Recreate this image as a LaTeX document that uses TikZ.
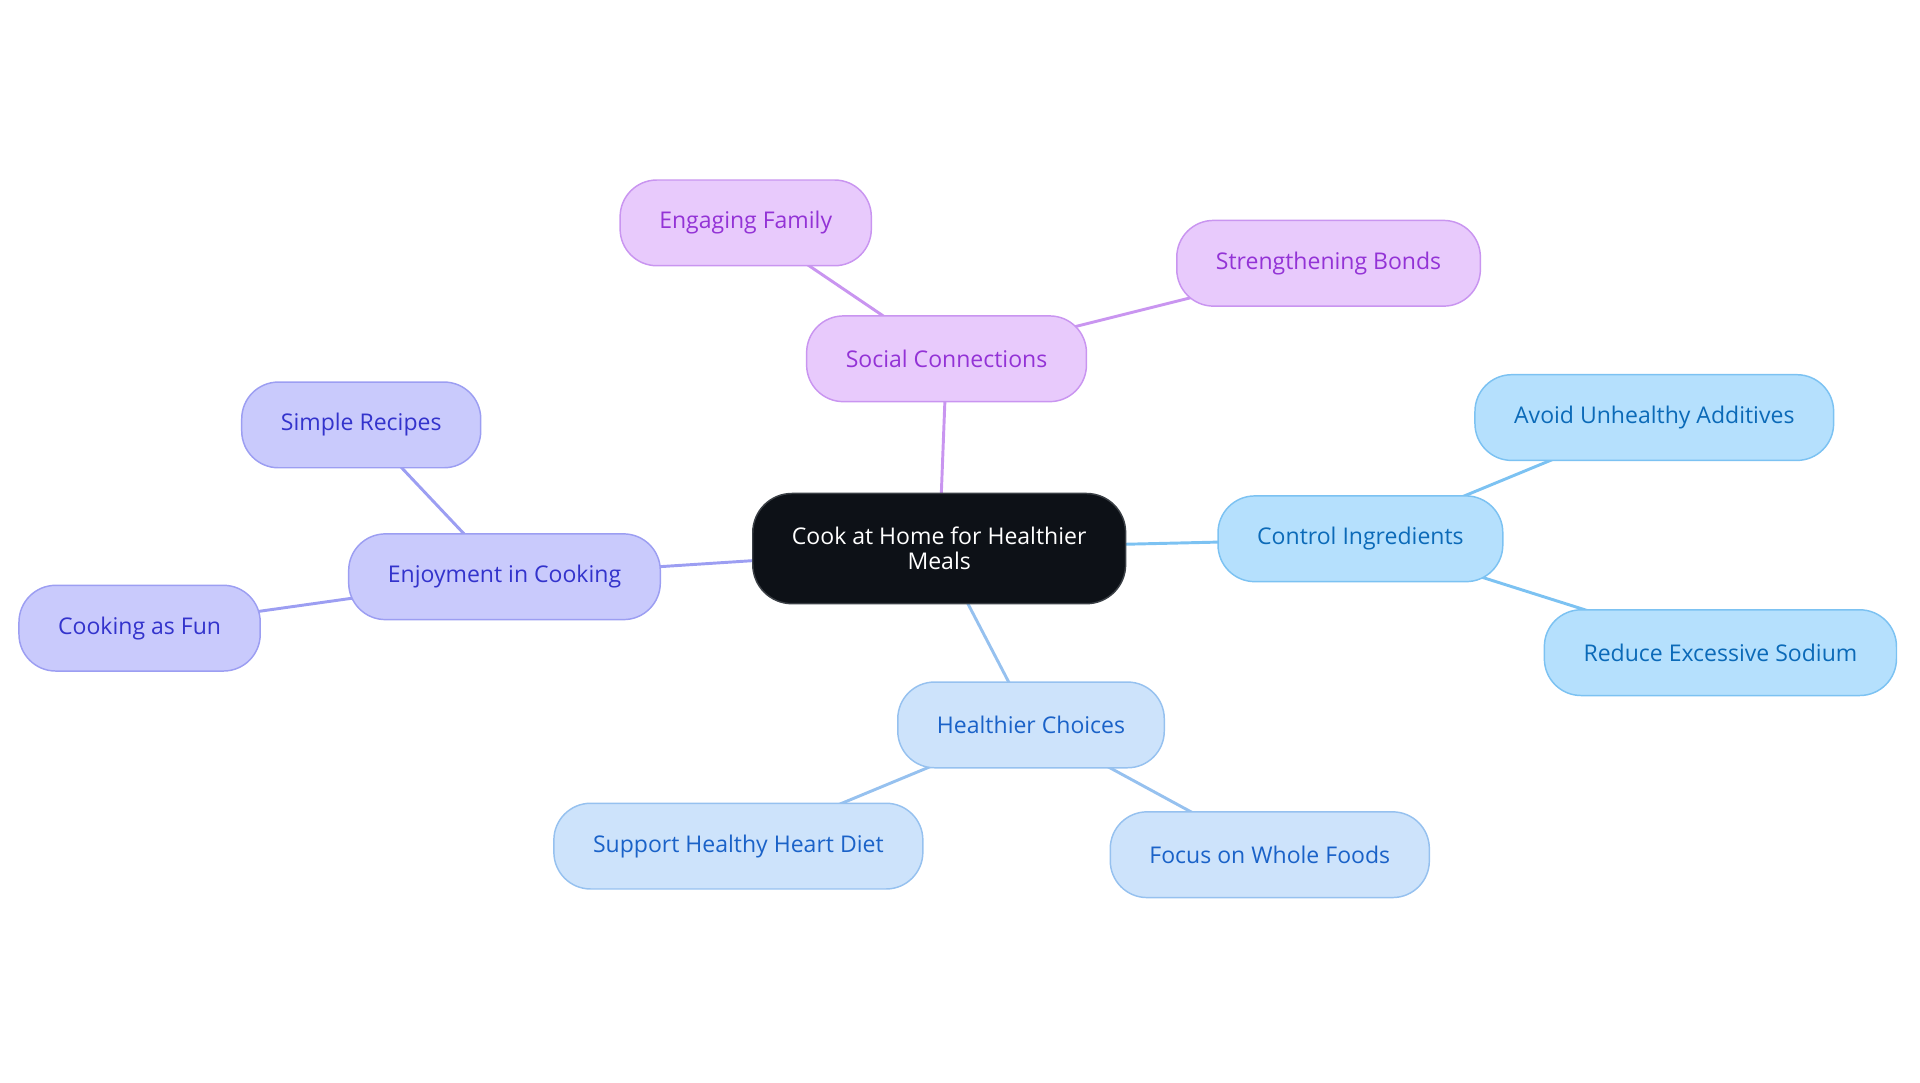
\documentclass[tikz,border=0pt]{standalone}
\usepackage{fontspec}
\setmainfont{Open Sans}
\usetikzlibrary{backgrounds}
\definecolor{rootfill}{HTML}{0D1117}
\definecolor{rootline}{HTML}{3A3F45}
\definecolor{socfill}{HTML}{E8CAFC}
\definecolor{socline}{HTML}{C995F0}
\definecolor{soctext}{HTML}{9333D6}
\definecolor{cookfill}{HTML}{C9CAFC}
\definecolor{cookline}{HTML}{9C9EF2}
\definecolor{cooktext}{HTML}{3333CC}
\definecolor{ingfill}{HTML}{B5E0FD}
\definecolor{ingline}{HTML}{7CC2F2}
\definecolor{ingtext}{HTML}{0B6AB8}
\definecolor{hcfill}{HTML}{CDE3FB}
\definecolor{hcline}{HTML}{96C1EF}
\definecolor{hctext}{HTML}{1A62C8}
\tikzset{
  topic/.style={draw, rounded corners=15pt, line width=0.6pt, inner xsep=16pt,
    minimum height=35pt, font=\fontsize{9.4}{10.2}\selectfont},
  social/.style={topic, fill=socfill, draw=socline, text=soctext},
  cook/.style={topic, fill=cookfill, draw=cookline, text=cooktext},
  ingr/.style={topic, fill=ingfill, draw=ingline, text=ingtext},
  choice/.style={topic, fill=hcfill, draw=hcline, text=hctext},
  root/.style={topic, fill=rootfill, draw=rootline, text=white, align=center,
    rounded corners=16pt, minimum width=150.5pt, minimum height=45pt},
  link/.style={line width=1.2pt}
}
\begin{document}
\begin{tikzpicture}[x=0.5pt,y=-0.5pt]
\useasboundingbox (0,0) rectangle (1568,884);
% centre
\node[root] (root) at (767,448) {Cook at Home for Healthier\\Meals};
% social side
\node[social] (soc) at (773,293) {Social Connections};
\node[social] (fam) at (609,182) {Engaging Family};
\node[social] (bond) at (1085,215) {Strengthening Bonds};
% enjoyment side
\node[cook] (enj) at (412,471) {Enjoyment in Cooking};
\node[cook] (rec) at (295,347) {Simple Recipes};
\node[cook] (fun) at (114,513) {Cooking as Fun};
% ingredients side
\node[ingr] (ctrl) at (1111,440) {Control Ingredients};
\node[ingr] (add) at (1351,341) {Avoid Unhealthy Additives};
\node[ingr] (sod) at (1405,533) {Reduce Excessive Sodium};
% choices side
\node[choice] (hc) at (842,592) {Healthier Choices};
\node[choice] (heart) at (603,691) {Support Healthy Heart Diet};
\node[choice] (whole) at (1037,698) {Focus on Whole Foods};
\begin{scope}[on background layer]
\draw[link,socline] (root.center)--(soc.center);
\draw[link,socline] (soc.center)--(fam.center);
\draw[link,socline] (soc.center)--(bond.center);
\draw[link,cookline] (root.center)--(enj.center);
\draw[link,cookline] (enj.center)--(rec.center);
\draw[link,cookline] (enj.center)--(fun.center);
\draw[link,ingline] (root.center)--(ctrl.center);
\draw[link,ingline] (ctrl.center)--(add.center);
\draw[link,ingline] (ctrl.center)--(sod.center);
\draw[link,hcline] (root.center)--(hc.center);
\draw[link,hcline] (hc.center)--(heart.center);
\draw[link,hcline] (hc.center)--(whole.center);
\end{scope}
\end{tikzpicture}
\end{document}
